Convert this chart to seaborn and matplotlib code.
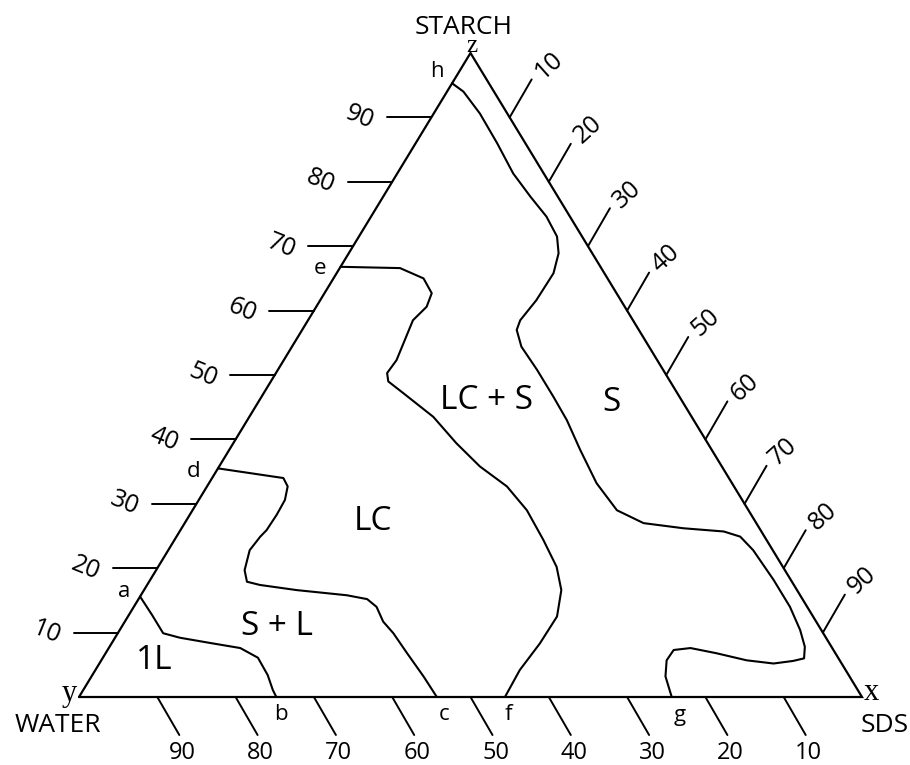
import numpy as np
import pandas as pd
import matplotlib
matplotlib.use("Agg")
import matplotlib.pyplot as plt
import seaborn as sns

# phase boundaries, as (SDS %, STARCH %); water = rest
ab_sds = [0, 3.0, 5.8, 8.3, 12.5, 16.8, 19.8, 22.4, 24.2, 25.2]
ab_starch = [15.6, 12.7, 9.9, 9.2, 8.4, 7.6, 6.1, 3.4, 1.1, 0]

dc_sds = [0, 9.1, 10.3, 11.0, 11.1, 11.0, 10.7, 10.4, 11.3, 12.5, 14.4, 19.5,
          26.3, 29.2, 31.0, 33.0, 35.2, 38.5, 42.4, 45.7]
dc_starch = [35.5, 34.0, 32.7, 30.6, 28.3, 25.9, 24.9, 22.8, 19.7, 17.9, 17.4,
             16.6, 15.8, 15.2, 14.0, 11.7, 9.9, 6.8, 3.2, 0]

ef_sds = [0, 7.7, 11.5, 13.7, 14.1, 13.4, 13.9, 14.4, 14.2, 15.0, 17.8, 23.5,
          28.5, 33.3, 38.3, 42.7, 47.1, 50.9, 53.3, 54.8, 54.7, 54.2, 54.4]
ef_starch = [66.8, 66.6, 65.0, 62.7, 60.6, 58.5, 55.4, 52.3, 50.3, 49.0, 47.2,
             43.5, 39.4, 35.8, 32.7, 29.0, 24.4, 20.2, 16.6, 12.5, 8.3, 4.2, 0]

hg_sds = [0, 2.1, 5.9, 10.4, 14.8, 18.8, 22.4, 25.3, 26.8, 27.7, 27.6, 27.1,
          27.4, 29.3, 33.1, 37.3, 40.8, 44.8, 49.5, 54.2, 58.6, 64.1, 69.5,
          72.0, 74.7, 79.6, 83.8, 86.9, 88.8, 89.6, 88.4, 86.1, 82.4, 78.0,
          74.3, 72.3, 72.2, 73.3, 75.7]
hg_starch = [95.3, 94.0, 90.6, 86.0, 81.3, 77.7, 74.6, 71.5, 68.9, 65.8, 61.6,
             58.5, 57.0, 54.4, 50.8, 46.6, 43.0, 38.4, 33.2, 29.0, 27.0, 26.2,
             25.7, 24.9, 22.8, 18.2, 14.0, 10.4, 7.8, 6.0, 5.6, 5.2, 5.7, 6.8,
             7.6, 7.3, 5.7, 3.2, 0]

ticks = [10, 20, 30, 40, 50, 60, 70, 80, 90]

regions = ["1L", "S + L", "LC", "LC + S", "S"]
region_sds = [6.8, 19.9, 24.0, 29.0, 45.1]
region_starch = [5.7, 10.9, 27.2, 46.1, 45.7]


def to_xy(sds, starch):
    sds = np.asarray(sds, float) / 100
    starch = np.asarray(starch, float) / 100
    return sds + starch / 2, starch


frames = []
for name, s, t in [("ab", ab_sds, ab_starch), ("dc", dc_sds, dc_starch),
                   ("ef", ef_sds, ef_starch), ("hg", hg_sds, hg_starch)]:
    X, Y = to_xy(s, t)
    frames.append(pd.DataFrame({"X": X, "Y": Y, "curve": name}))
curves = pd.concat(frames, ignore_index=True)

sns.set_style("white")
plt.rcParams['font.family'] = ['Open Sans', 'DejaVu Sans']
plt.rcParams['text.color'] = 'black'

fig = plt.figure(figsize=(9.1, 7.65), dpi=100)
ax = fig.add_axes([0, 0, 1, 1])
ax.set_xlim(-79 / 783, 831 / 783)
ax.set_ylim(-68 / 644, 697 / 644)
ax.axis("off")

# triangle frame
tri_x, tri_y = to_xy([0, 100, 0, 0], [0, 0, 100, 0])
ax.plot(tri_x, tri_y, color="black", lw=1.6, solid_joinstyle="miter")

sns.lineplot(data=curves, x="X", y="Y", units="curve", estimator=None,
             sort=False, color="black", lw=1.5, ax=ax, legend=False)

tl = 0.057
bx, by = 22 / 783, 38 / 644
for v in ticks:
    # left edge: starch
    x0, y0 = to_xy(0, v)
    ax.plot([x0, x0 - tl], [y0, y0], color="black", lw=1.4)
    ax.annotate(str(v), (x0 - tl, y0), xytext=(-27, 0), textcoords="offset pixels",
                ha="center", va="center", rotation=-22, fontsize=18)
    # bottom edge: water
    x0, y0 = to_xy(v, 0)
    ax.plot([x0, x0 + bx], [y0, y0 - by], color="black", lw=1.4)
    ax.annotate(str(100 - v), (x0 + bx, y0 - by), xytext=(3, -18),
                textcoords="offset pixels", ha="center", va="center", fontsize=17)
    # right edge: SDS
    x0, y0 = to_xy(v, 100 - v)
    ax.plot([x0, x0 + bx], [y0, y0 + by], color="black", lw=1.4)
    ax.annotate(str(v), (x0 + bx, y0 + by), xytext=(17, 14),
                textcoords="offset pixels", ha="center", va="center",
                rotation=42, fontsize=18)

for name, s, t in zip(regions, region_sds, region_starch):
    X, Y = to_xy(s, t)
    ax.text(X, Y, name, ha="center", va="center", fontsize=24)

# boundary end letters
points = {"a": (ab_sds[0], ab_starch[0], -16, 5),
          "b": (ab_sds[-1], ab_starch[-1], 5, -18),
          "c": (dc_sds[-1], dc_starch[-1], 7, -18),
          "d": (dc_sds[0], dc_starch[0], -24, -3),
          "e": (ef_sds[0], ef_starch[0], -21, -2),
          "f": (ef_sds[-1], ef_starch[-1], 3, -18),
          "g": (hg_sds[-1], hg_starch[-1], 8, -18),
          "h": (hg_sds[0], hg_starch[0], -15, 12)}
for lab, (s, t, dx, dy) in points.items():
    X, Y = to_xy(s, t)
    ax.annotate(lab, (X, Y), xytext=(dx, dy), textcoords="offset pixels",
                ha="center", va="center", fontsize=16)

serif = ["Liberation Serif", "DejaVu Serif"]
vx, vy = to_xy([0, 100, 0], [0, 0, 100])
ax.annotate("y", (vx[0], vy[0]), xytext=(-10, 4), textcoords="offset pixels",
            ha="center", va="center", fontsize=22, family=serif)
ax.annotate("x", (vx[1], vy[1]), xytext=(9, 4), textcoords="offset pixels",
            ha="center", va="center", fontsize=22, family=serif)
ax.annotate("z", (vx[2], vy[2]), xytext=(1, 7), textcoords="offset pixels",
            ha="center", va="center", fontsize=18, family=serif)
ax.annotate("WATER", (vx[0], vy[0]), xytext=(-21, -28), textcoords="offset pixels",
            ha="center", va="center", fontsize=19)
ax.annotate("SDS", (vx[1], vy[1]), xytext=(23, -28), textcoords="offset pixels",
            ha="center", va="center", fontsize=19)
ax.annotate("STARCH", (vx[2], vy[2]), xytext=(-7, 26), textcoords="offset pixels",
            ha="center", va="center", fontsize=19)

fig.savefig("out.png", dpi=100, facecolor="white")
